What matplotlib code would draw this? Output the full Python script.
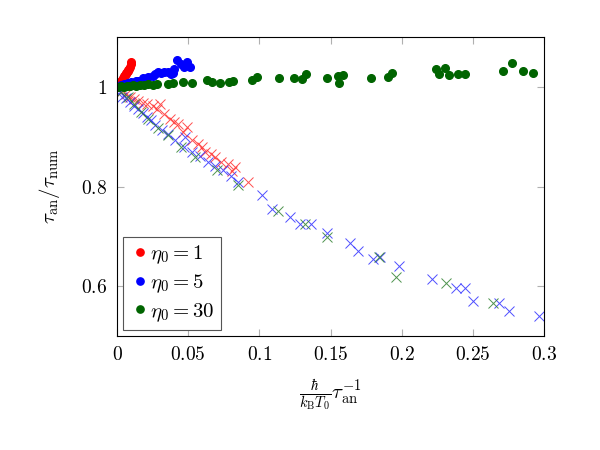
import matplotlib
matplotlib.use("Agg")
from matplotlib import pyplot as plt
from matplotlib.ticker import FixedLocator, FuncFormatter

plt.rcParams["mathtext.fontset"] = "cm"
plt.rcParams["font.family"] = "serif"
plt.rcParams["font.serif"] = ["DejaVu Serif"]

# eta0 = 1
red_dot_x = [0.0005, 0.001, 0.0015, 0.002, 0.0025, 0.003, 0.0035, 0.004, 0.0045, 0.005,
             0.0055, 0.006, 0.0065, 0.007, 0.0075, 0.008, 0.0085, 0.009, 0.0095, 0.0098]
red_dot_y = [1.002, 1.004, 1.006, 1.008, 1.01, 1.012, 1.014, 1.016, 1.018, 1.021,
             1.023, 1.025, 1.027, 1.029, 1.031, 1.033, 1.036, 1.04, 1.045, 1.05]
red_x_x = [0.001, 0.003, 0.006, 0.009, 0.012, 0.015, 0.018, 0.021, 0.025, 0.028, 0.03, 0.033,
           0.037, 0.04, 0.043, 0.046, 0.049, 0.053, 0.057, 0.06, 0.062, 0.066, 0.069, 0.073,
           0.078, 0.081, 0.083, 0.092]
red_x_y = [0.995, 0.99, 0.985, 0.98, 0.975, 0.972, 0.968, 0.965, 0.962, 0.955, 0.965, 0.945,
           0.935, 0.93, 0.925, 0.91, 0.92, 0.893, 0.885, 0.88, 0.87, 0.865, 0.86, 0.85,
           0.845, 0.832, 0.84, 0.81]

# eta0 = 5
blue_dot_x = [0.001, 0.003, 0.005, 0.008, 0.01, 0.013, 0.015, 0.018, 0.02, 0.022, 0.025, 0.027,
              0.029, 0.031, 0.033, 0.036, 0.038, 0.039, 0.04, 0.042, 0.045, 0.047, 0.049, 0.051]
blue_dot_y = [1.0, 1.003, 1.005, 1.008, 1.01, 1.012, 1.012, 1.018, 1.015, 1.02, 1.022, 1.026,
              1.03, 1.028, 1.03, 1.03, 1.026, 1.028, 1.035, 1.054, 1.045, 1.04, 1.05, 1.04]
blue_x_x = [0.002, 0.0035, 0.006, 0.009, 0.012, 0.015, 0.018, 0.021, 0.024, 0.027, 0.0316,
            0.036, 0.041, 0.047, 0.048, 0.053, 0.058, 0.064, 0.069, 0.0745, 0.08, 0.085,
            0.102, 0.109, 0.1215, 0.1286, 0.1363, 0.1475, 0.1637, 0.169, 0.18, 0.185, 0.198,
            0.221, 0.238, 0.2445, 0.25, 0.268, 0.2755, 0.296]
blue_x_y = [0.99, 0.98, 0.978, 0.97, 0.962, 0.955, 0.948, 0.94, 0.933, 0.923, 0.913,
            0.905, 0.893, 0.879, 0.9, 0.869, 0.862, 0.849, 0.842, 0.833, 0.822, 0.809,
            0.783, 0.755, 0.739, 0.725, 0.725, 0.707, 0.686, 0.67, 0.654, 0.658, 0.64,
            0.614, 0.596, 0.596, 0.57, 0.566, 0.55, 0.54]

# eta0 = 30
green_dot_x = [0.001, 0.003, 0.005, 0.007, 0.009, 0.011, 0.013, 0.016, 0.019, 0.022, 0.025,
               0.028, 0.036, 0.039, 0.046, 0.053, 0.063, 0.067, 0.072, 0.079, 0.0815, 0.095,
               0.098, 0.114, 0.124, 0.13, 0.133, 0.1475, 0.155, 0.156, 0.159, 0.1785, 0.19,
               0.193, 0.224, 0.226, 0.2305, 0.233, 0.2395, 0.2445, 0.271, 0.2775, 0.285, 0.292]
green_dot_y = [1.0, 1.001, 1.0, 1.002, 1.001, 1.003, 1.002, 1.004, 1.003, 1.005, 1.004,
               1.006, 1.006, 1.007, 1.01, 1.008, 1.014, 1.01, 1.008, 1.01, 1.012, 1.014,
               1.02, 1.018, 1.018, 1.016, 1.026, 1.018, 1.022, 1.008, 1.024, 1.018, 1.02,
               1.028, 1.036, 1.026, 1.038, 1.024, 1.026, 1.026, 1.032, 1.048, 1.032, 1.028]
green_x_x = [0.003, 0.008, 0.012, 0.017, 0.022, 0.029, 0.036, 0.045, 0.055, 0.07, 0.085,
             0.113, 0.132, 0.1475, 0.184, 0.196, 0.231, 0.264]
green_x_y = [0.99, 0.98, 0.965, 0.95, 0.935, 0.918, 0.903, 0.88, 0.859, 0.833, 0.803,
             0.75, 0.725, 0.699, 0.658, 0.618, 0.606, 0.566]

labels = [r"$\eta_0 = 1$", r"$\eta_0 = 5$", r"$\eta_0 = 30$"]
colors = ["#ff0000", "#0000ff", "#006400"]
cross_colors = ["#ff3030", "#3030ff", "#308030"]

fig = plt.figure(figsize=(6, 4.5), dpi=100)
ax = fig.add_axes([0.195, 0.2533, 0.712, 0.6645])

dots = [(red_dot_x, red_dot_y), (blue_dot_x, blue_dot_y), (green_dot_x, green_dot_y)]
crosses = [(red_x_x, red_x_y), (blue_x_x, blue_x_y), (green_x_x, green_x_y)]

for (cx, cy), c in zip(crosses, cross_colors):
    ax.plot(cx, cy, linestyle="none", marker="x", markersize=7.5, markeredgewidth=0.7,
            color=c, alpha=0.85)
for (dx, dy), c, lab in zip(dots, colors, labels):
    ax.plot(dx, dy, linestyle="none", marker="o", markersize=5.5, color=c, label=lab)

ax.set_xlim(0, 0.3)
ax.set_ylim(0.5, 1.1)
ax.xaxis.set_major_locator(FixedLocator([0, 0.05, 0.1, 0.15, 0.2, 0.25, 0.3]))
ax.yaxis.set_major_locator(FixedLocator([0.6, 0.8, 1.0]))
ax.xaxis.set_major_formatter(FuncFormatter(lambda v, p: "$%g$" % round(v, 2)))
ax.yaxis.set_major_formatter(FuncFormatter(lambda v, p: "$%g$" % round(v, 1)))
ax.tick_params(direction="in", top=True, right=True, length=5, width=0.8,
               color="#b0b0b0", labelsize=14, pad=7)
for s in ax.spines.values():
    s.set_linewidth(0.8)

ax.set_xlabel(r"$\frac{\hbar}{k_\mathrm{B}T_0}\tau_\mathrm{an}^{-1}$", fontsize=15, labelpad=10)
ax.set_ylabel(r"$\tau_\mathrm{an}/\tau_\mathrm{num}$", fontsize=15, labelpad=14)

leg = ax.legend(loc="lower left", fontsize=15, handletextpad=0.0, handlelength=1.0,
                markerscale=0.95, fancybox=False, edgecolor="#555555", framealpha=1,
                borderaxespad=0.3, labelspacing=0.3, borderpad=0.3)
leg.get_frame().set_linewidth(0.8)

plt.savefig("out.png")
